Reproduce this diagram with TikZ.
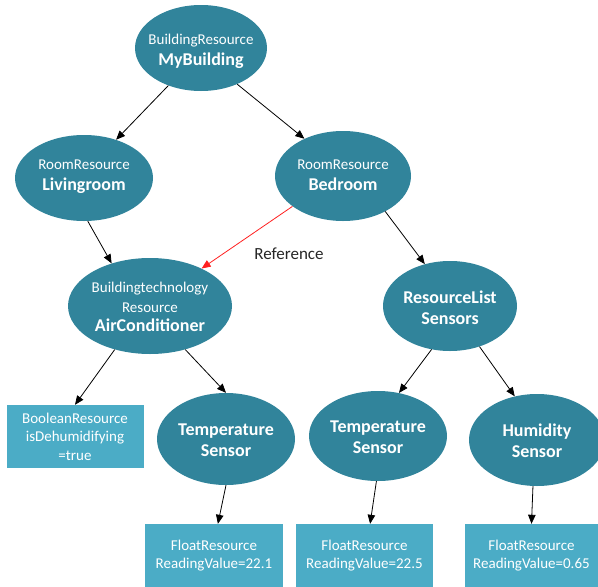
\documentclass[tikz,border=0pt]{standalone}
\usepackage{fontspec}
\setmainfont{Carlito}
\usetikzlibrary{shapes.geometric,arrows.meta}

\definecolor{ellfill}{HTML}{31849B}
\definecolor{boxfill}{HTML}{4BACC6}
\definecolor{reflink}{HTML}{FF2020}

\newcommand{\namefont}{\fontsize{18}{21}\selectfont\bfseries}

\tikzset{
  bubble/.style={ellipse, fill=ellfill, draw=none, inner sep=0pt},
  lbl/.style={text=white, align=center, inner sep=0pt,
              font=\fontsize{15}{21}\selectfont},
  leaf/.style={rectangle, fill=boxfill, draw=none, text=white, align=center,
               minimum height=63pt, inner sep=0pt,
               font=\fontsize{15}{18.5}\selectfont},
  link/.style={draw=black, line width=0.8pt,
               -{Triangle[length=9pt,width=7.5pt]}},
  reflinkstyle/.style={draw=reflink, line width=0.8pt,
               -{Triangle[length=9pt,width=7.5pt]}},
}

\begin{document}
\begin{tikzpicture}[x=1pt,y=-1pt]
\useasboundingbox (0,0) rectangle (598,587);

% resource ellipses
\node[bubble, minimum width=132pt, minimum height=86pt] (mb) at (201,48) {};
\node[bubble, minimum width=138pt, minimum height=86pt] (lr) at (84,178) {};
\node[bubble, minimum width=136pt, minimum height=90pt] (br) at (343,176) {};
\node[bubble, minimum width=164pt, minimum height=96pt] (ac) at (150,306) {};
\node[bubble, minimum width=134pt, minimum height=90pt] (rs) at (450,306) {};
\node[bubble, minimum width=138pt, minimum height=92pt] (ts1) at (226,439) {};
\node[bubble, minimum width=138pt, minimum height=90pt] (ts2) at (378,436) {};
\node[bubble, minimum width=136pt, minimum height=92pt] (hs) at (537,440) {};

% ellipse labels
\node[lbl] (mbt) at (201,51.5) {BuildingResource\\{\namefont MyBuilding}};
\node[lbl] (lrt) at (84,177) {RoomResource\\{\namefont Livingroom}};
\node[lbl] (brt) at (343,175) {RoomResource\\{\namefont Bedroom}};
\node[lbl, font=\fontsize{15}{19.5}\selectfont] (act) at (150,307)
  {Buildingtechnology\\Resource\\{\namefont AirConditioner}};
\node[lbl, font=\namefont] (rst) at (450,307.5) {ResourceList\\Sensors};
\node[lbl, font=\namefont] (ts1t) at (226,440.5) {Temperature\\Sensor};
\node[lbl, font=\namefont] (ts2t) at (378,437) {Temperature\\Sensor};
\node[lbl, font=\namefont] (hst) at (537,440.5) {Humidity\\Sensor};

% value boxes
\node[leaf, minimum width=137pt] (bool) at (75,436.5)
  {BooleanResource\\isDehumidifying\\=true};
\node[leaf, minimum width=138pt] (f1) at (214,555.5)
  {FloatResource\\ReadingValue=22.1};
\node[leaf, minimum width=137pt] (f2) at (364.5,555.5)
  {FloatResource\\ReadingValue=22.5};
\node[leaf, minimum width=133pt] (f3) at (531.5,555.5)
  {FloatResource\\ReadingValue=0.65};

% containment links
\draw[link] (mb.229) -- (lr.50);
\draw[link] (mb.-45) -- (br.136);
\draw[link] (lr.-85) -- (ac.132);
\draw[link] (br.-40) -- (rs.121);
\draw[link] (ac.-129) -- (bool.north);
\draw[link] (ac.-51) -- (ts1.north);
\draw[link] (rs.-113) -- (ts2.64);
\draw[link] (rs.-54) -- (hs.117);
\draw[link] (ts1.south) -- (f1.83);
\draw[link] (ts2.-92) -- (f2.80);
\draw[link] (hs.-95) -- (f3.north);

% reference link
\draw[reflinkstyle] (br.211) -- (ac.36.5);
\node[text=black!85, font=\fontsize{17}{20}\selectfont, inner sep=0pt] (reflbl)
  at (289,254) {Reference};

\end{tikzpicture}
\end{document}
